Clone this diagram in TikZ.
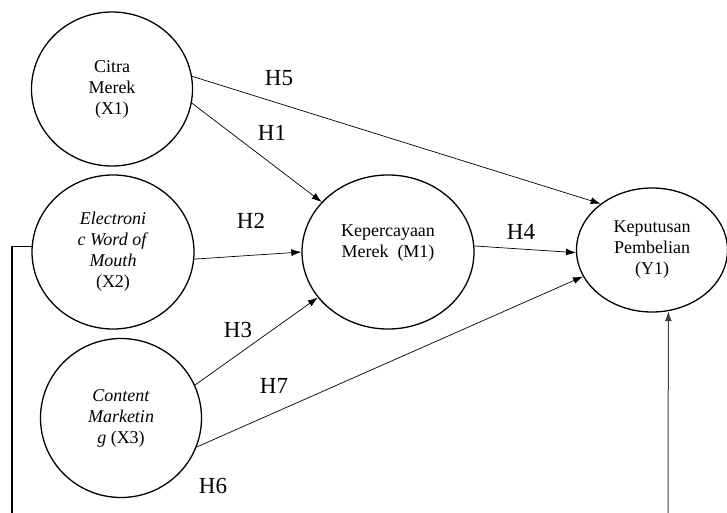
\documentclass[tikz,border=0pt]{standalone}
\usepackage{fontspec}
\setmainfont{Liberation Serif}
\usetikzlibrary{shapes.geometric,arrows.meta}
\begin{document}
\begin{tikzpicture}[
    x=1pt,y=-1pt,
    var/.style={ellipse,draw=black,line width=1.3pt,inner sep=0pt,align=center,font=\fontsize{18}{21}\selectfont},
    path/.style={->,>={Latex[length=10pt,width=7pt]},draw=black,line width=0.7pt},
    hyp/.style={font=\fontsize{23}{27}\selectfont},
    frame/.style={draw=black,line width=1.3pt},
    back/.style={->,>={Latex[length=10pt,width=7pt]},draw=black!75,line width=1pt},
]
	\useasboundingbox (0,0) rectangle (727,513);

	\node[var,minimum width=161pt,minimum height=154pt] at (112,89) (X1) {Citra\\Merek\\(X1)};
	\node[var,minimum width=162pt,minimum height=154pt] at (113,252) (X2) {\textit{Electroni}\\\textit{c Word of}\\\textit{Mouth}\\(X2)};
	\node[var,minimum width=161pt,minimum height=159pt] at (121,418) (X3) {\textit{Content}\\\textit{Marketin}\\\textit{g} (X3)};
	\node[var,minimum width=172pt,minimum height=154pt] at (388,252) (M1) {Kepercayaan\\Merek\ \ (M1)\\\mbox{}};
	\node[var,minimum width=151pt,minimum height=124pt] at (652,250) (Y1) {Keputusan\\Pembelian\\(Y1)};

	\draw[path] (X1.-10.5)--(M1.143); % H1
	\draw[path] (X1.9.8)--(Y1.138); % H5
	\draw[path] (X2.-5)--(M1.180); % H2
	\draw[path] (X3.24)--(M1.213.7); % H3
	\draw[path] (X3.-21)--(Y1.201); % H7
	\draw[path] (M1.4)--(Y1.182); % H4

	\node[hyp] at (279,78) (h5) {H5};
	\node[hyp] at (272,133) (h1) {H1};
	\node[hyp] at (251,221) (h2) {H2};
	\node[hyp] at (238,330) (h3) {H3};
	\node[hyp] at (274,386) (h7) {H7};
	\node[hyp] at (213,486) (h6) {H6};
	\node[hyp] at (521,232) (h4) {H4};

	\coordinate (xb) at (12,513);
	\coordinate (yb) at (668,513);
	\draw[frame] (X2.176.4) -| (xb);
	\draw[back] (yb)--(Y1.-75.5);
\end{tikzpicture}
\end{document}
